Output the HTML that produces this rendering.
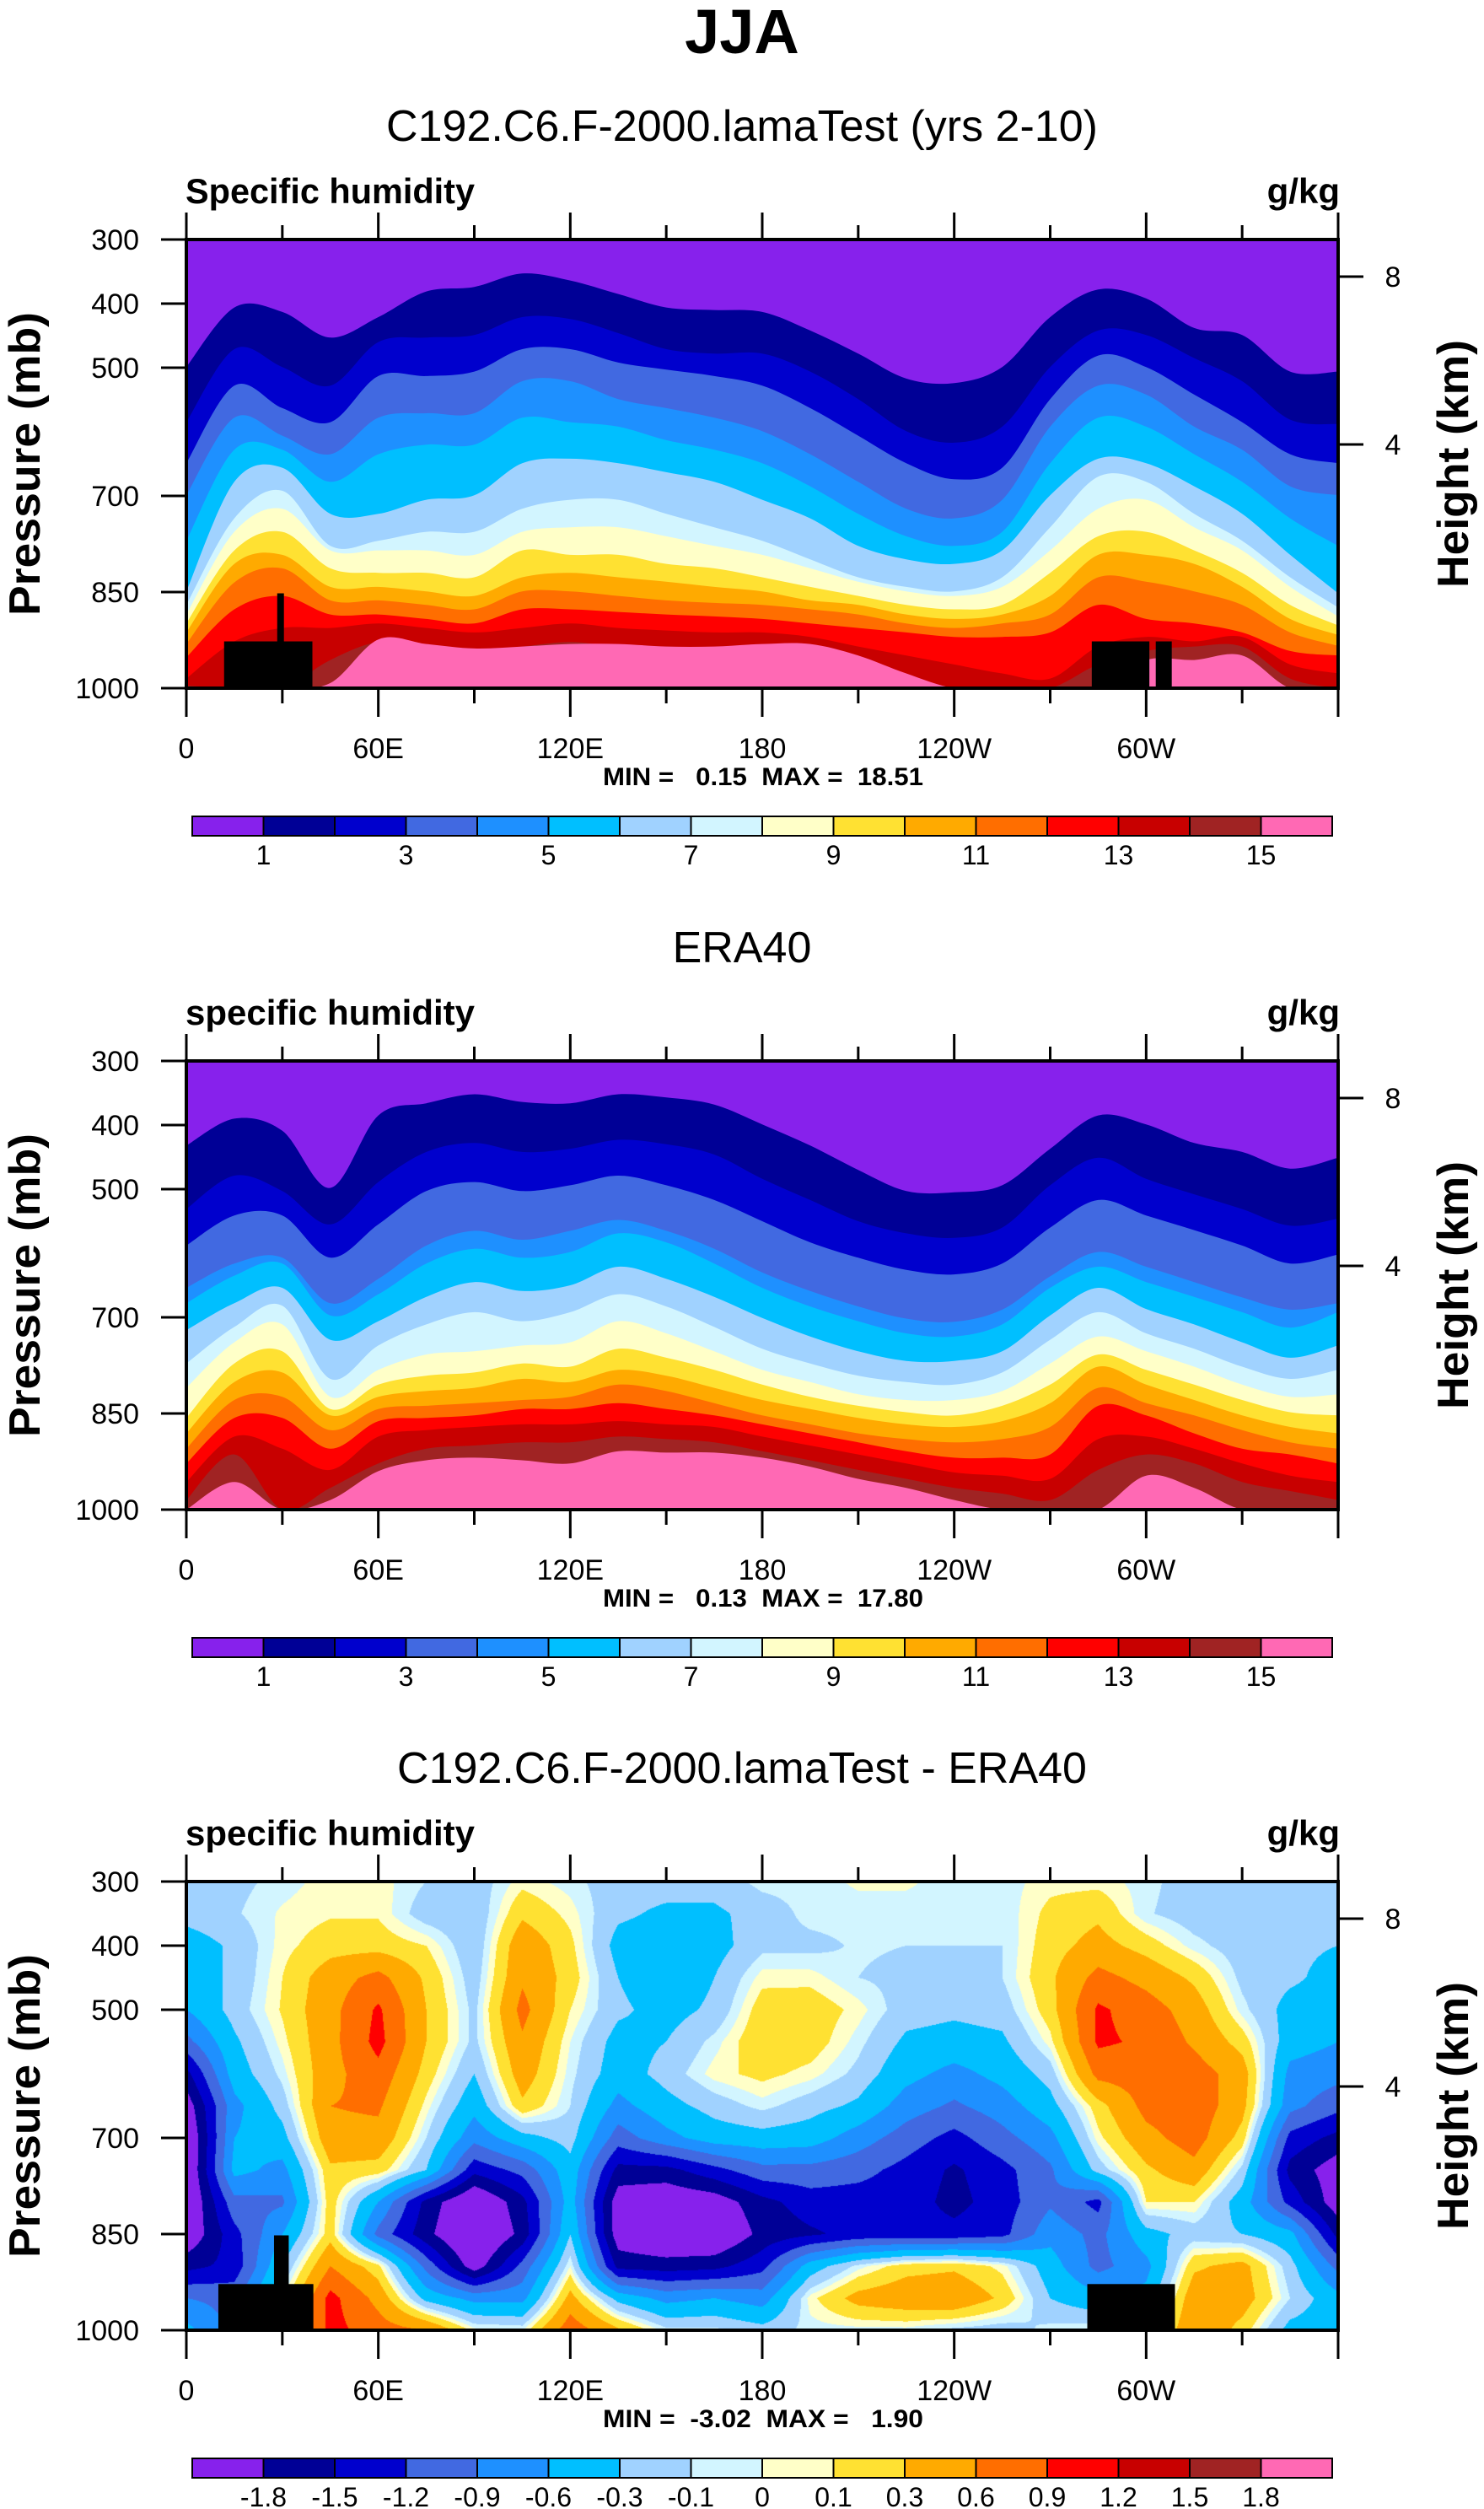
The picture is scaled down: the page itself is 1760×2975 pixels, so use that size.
<!DOCTYPE html>
<html><head><meta charset="utf-8"><title>JJA specific humidity</title>
<style>
body{margin:0;background:#fff;width:1760px;height:2975px;position:relative;overflow:hidden;font-family:"Liberation Sans",sans-serif}
canvas,svg{position:absolute}
</style></head>
<body>
<canvas id="diffCanvas" width="1366" height="532" style="left:221px;top:2231px"></canvas>
<svg id="fig" width="1760" height="2975" style="left:0;top:0" xmlns="http://www.w3.org/2000/svg"></svg>
<script>
// ---------- shared data ----------
const lons = [0,15,30,45,60,75,90,105,120,135,150,165,180,195,210,225,240,255,270,285,300,315,330,345,360];
const pressureTicks = [300,400,500,700,850,1000];
const heightTicks = [8,4];
const lonTickLabels = ["0","60E","120E","180","120W","60W"];
const colors = ["#8721ec","#000096","#0000cd","#4169e1","#1e90ff","#00bfff","#a0d2ff","#d2f5ff","#ffffc8","#ffe132","#ffaa00","#ff6e00","#ff0000","#c80000","#a02323","#ff69b4"];
const qLevels = [1,2,3,4,5,6,7,8,9,10,11,12,13,14,15];
const qLabels = ["1","3","5","7","9","11","13","15"];
const diffLevels = [-1.8,-1.5,-1.2,-0.9,-0.6,-0.3,-0.1,0,0.1,0.3,0.6,0.9,1.2,1.5,1.8];
const diffLabels = ["-1.8","-1.5","-1.2","-0.9","-0.6","-0.3","-0.1","0","0.1","0.3","0.6","0.9","1.2","1.5","1.8"];

// Panel 1 (model): pressure (mb) of each contour-level boundary vs longitude
const modelBounds = [
[499,406,413,453,421,381,374,353,364,385,406,410,413,442,478,517,524,499,421,378,392,438,449,506,506],
[585,471,499,528,460,453,449,421,424,446,471,478,478,506,549,599,617,592,499,442,449,485,521,581,588],
[649,528,563,585,513,513,506,471,471,492,503,513,528,563,606,649,674,656,549,481,499,542,585,635,649],
[699,578,606,635,578,571,571,521,521,549,563,578,599,635,678,720,735,706,592,528,542,592,628,685,699],
[770,628,628,678,635,620,620,578,585,592,613,628,649,685,728,763,778,756,649,578,592,635,678,735,778],
[849,678,656,728,728,706,699,649,642,649,663,678,706,735,778,799,806,785,699,642,649,685,728,792,852],
[870,735,692,778,770,756,756,720,706,706,728,749,770,799,827,842,849,827,749,670,678,728,770,827,874],
[885,756,720,785,785,785,792,756,749,749,763,778,792,813,834,849,856,842,785,720,706,749,785,842,888],
[899,785,756,813,820,820,827,785,792,792,806,813,827,842,856,870,877,870,820,763,756,785,820,870,902],
[913,806,792,842,842,849,856,827,820,827,834,842,849,863,870,885,892,885,856,792,792,806,842,892,917],
[931,835,813,863,863,870,877,849,849,856,863,867,870,877,885,899,906,899,885,827,834,849,870,913,934],
[952,877,856,885,885,892,899,877,877,881,885,888,892,899,906,913,920,920,913,870,892,899,913,942,949],
[985,927,906,906,899,906,913,906,899,906,910,913,913,920,935,949,963,977,985,935,920,927,920,963,977],
[996,1000,1000,956,928,935,942,935,928,935,935,938,938,949,963,985,1000,1000,1000,963,942,935,935,985,1000],
[1000,1000,1000,992,924,931,938,935,931,931,935,935,931,931,949,977,1000,1000,1000,1000,956,956,949,1000,1000]
];
// Panel 2 (ERA40)
const eraBounds = [
[432,390,409,498,385,366,352,364,366,352,357,368,399,432,470,503,505,494,437,385,399,428,442,468,451],
[531,479,503,555,489,442,428,442,437,423,430,446,484,517,550,569,576,560,494,451,484,508,531,557,546],
[588,541,541,607,555,503,489,503,494,479,494,517,550,583,607,626,633,616,560,517,541,564,588,616,602],
[654,616,607,678,640,588,565,579,565,548,565,593,630,659,683,702,707,688,636,598,621,645,669,688,678],
[678,635,616,697,664,616,593,607,598,569,583,616,654,683,706,725,730,711,654,621,645,668,692,716,692],
[720,678,654,735,706,668,645,659,650,621,640,668,701,730,753,768,768,753,697,654,687,711,739,763,744],
[772,715,682,796,744,711,692,706,692,664,683,715,749,772,791,801,805,786,735,692,725,749,777,796,782],
[810,739,711,824,782,758,753,744,739,706,725,753,782,801,820,829,829,815,772,730,753,777,805,824,820],
[857,772,753,843,805,791,786,772,777,749,763,782,805,824,838,848,853,838,805,758,782,805,829,848,853],
[881,801,786,853,824,815,810,796,801,782,791,810,829,843,857,867,871,862,834,777,805,829,853,871,881],
[905,829,824,876,843,838,834,829,824,805,815,834,853,867,881,890,895,890,871,810,834,853,876,895,905],
[928,857,857,905,862,857,853,843,843,834,843,853,867,881,895,909,919,919,914,838,853,881,905,914,928],
[957,886,905,938,886,876,871,867,867,862,867,871,886,900,914,928,942,947,952,890,886,905,928,947,957],
[985,914,1000,966,928,905,900,895,895,886,890,895,909,923,938,952,966,975,985,938,914,928,957,971,985],
[1000,957,1000,985,940,923,919,923,928,909,911,911,919,933,952,966,985,1000,1000,1000,947,966,1000,1000,1000]
];
// Panel 3 (difference): grid values, each column = one longitude, rows = 300..1000 mb step 50
const diffPressures = [300,350,400,450,500,550,600,650,700,750,800,850,900,950,1000];
const diffCols = [
[-0.15,-0.2,-0.45,-0.45,-0.6,-1.0,-1.6,-2.0,-2.2,-2.2,-2.2,-2.1,-1.6,-0.9,-0.5],
[-0.15,-0.12,-0.25,-0.25,-0.2,-0.35,-0.45,-0.7,-0.6,-0.5,-1.0,-1.3,-1.4,-1.0,-1.0],
[-0.05,0.02,0.05,0.1,0.12,0.05,-0.05,-0.2,-0.4,-0.7,-0.95,-0.6,-0.3,0,0],
[0.05,0.08,0.2,0.45,0.5,0.5,0.5,0.6,0.5,0.25,0.2,0.2,0.6,1.0,1.0],
[0.05,0.08,0.2,0.7,0.95,1.0,0.8,0.65,0.5,0.2,-0.6,-1.0,0.15,0.5,0.75],
[-0.1,-0.2,0.1,0.25,0.3,0.3,0.2,0.05,-0.1,-0.3,-1.6,-1.7,-1.0,-0.4,0.6],
[-0.2,-0.25,-0.25,-0.2,-0.15,-0.15,-0.3,-0.5,-0.8,-1.4,-2.2,-2.3,-2.0,-0.7,0.05],
[0.05,0.25,0.5,0.55,0.7,0.55,0.45,0.25,-0.4,-1.1,-1.6,-1.7,-1.1,-0.7,0.0],
[-0.05,0.05,0.15,0.2,0.1,0.0,-0.05,-0.1,-0.2,-0.4,-0.45,-0.3,0.0,0.4,0.8],
[-0.2,-0.25,-0.4,-0.3,-0.25,-0.4,-0.45,-0.7,-1.05,-1.6,-2.0,-2.0,-1.6,-0.4,0.35],
[-0.2,-0.35,-0.45,-0.5,-0.4,-0.3,-0.2,-0.4,-0.7,-1.6,-2.1,-2.2,-1.65,-0.7,-0.05],
[-0.2,-0.35,-0.4,-0.3,-0.25,-0.05,0.05,-0.2,-0.45,-1.3,-2.0,-2.2,-1.6,-0.6,-0.05],
[-0.05,-0.2,-0.15,0.05,0.2,0.25,0.15,-0.05,-0.4,-1.0,-1.6,-1.7,-1.3,-0.75,-0.2],
[-0.05,-0.05,-0.15,0.05,0.22,0.2,0.05,-0.2,-0.45,-1.0,-1.35,-1.55,-0.45,0.05,-0.05],
[0.02,-0.05,-0.08,-0.1,0.05,-0.05,-0.15,-0.35,-0.75,-1.1,-1.35,-1.4,-0.05,0.4,-0.05],
[0.02,-0.05,-0.1,-0.15,-0.2,-0.35,-0.5,-0.75,-1.05,-1.3,-1.35,-1.4,0.2,0.5,-0.05],
[-0.05,-0.05,-0.1,-0.2,-0.25,-0.4,-0.7,-0.95,-1.3,-1.55,-1.6,-1.4,0.25,0.55,-0.15],
[-0.05,-0.08,-0.1,-0.1,-0.2,-0.35,-0.5,-0.75,-1.0,-1.3,-1.35,-1.3,0.05,0.25,-0.2],
[0.05,0.15,0.2,0.25,0.2,0.05,-0.2,-0.4,-0.7,-0.95,-0.95,-0.7,-0.45,-0.3,-0.05],
[0.05,0.25,0.4,0.7,0.95,0.95,0.7,0.2,0.05,-0.2,-1.3,-1.0,-1.0,-0.5,0],
[-0.05,-0.08,0.2,0.5,0.75,0.85,0.75,0.7,0.5,0.25,0.1,-0.4,-0.7,-0.5,-0.2],
[-0.2,-0.2,-0.05,0.25,0.45,0.55,0.75,0.8,0.75,0.5,0.1,-0.2,0.25,0.5,0.6],
[-0.2,-0.2,-0.2,-0.15,-0.05,0.2,0.45,0.4,0.2,-0.15,-0.45,-0.3,0.4,0.45,0.2],
[-0.2,-0.25,-0.25,-0.25,-0.4,-0.45,-0.7,-0.8,-1.3,-1.6,-1.3,-0.5,-0.2,-0.1,-0.4],
[-0.2,-0.2,-0.3,-0.4,-0.45,-0.6,-0.8,-1.1,-1.6,-2.0,-2.0,-1.6,-1.0,-0.5,-0.45]
];
// topography masks [lonStart, lonEnd, topPressure]
const topoModel = [[11.8,39.4,927],[28.4,30.5,852],[283,301,927],[303,308,927]];
const topoDiff = [[10,39.7,928],[27.4,32,852],[281.6,309,928]];

// ---------- drawing ----------
const NS = "http://www.w3.org/2000/svg";
const svg = document.getElementById('fig');
const X0 = 221, X1 = 1587, PH = 532;
const xScale = lon => X0 + (lon/360)*(X1-X0);
function mk(tag, attrs, parent){
  const e = document.createElementNS(NS, tag);
  for (const k in attrs) e.setAttribute(k, attrs[k]);
  (parent||svg).appendChild(e); return e;
}
function txt(str, attrs, parent){ const t = mk('text', attrs, parent); t.textContent = str; return t; }

const title = txt("JJA", {x:880, y:63, 'text-anchor':'middle', 'font-size':74, 'font-weight':'bold', 'font-family':'Liberation Sans, sans-serif'});



const defs = mk('defs', {});

function smoothPath(pts){
  // Catmull-Rom to cubic bezier
  let d = 'M' + pts[0][0].toFixed(1) + ',' + pts[0][1].toFixed(1);
  for (let i=0;i<pts.length-1;i++){
    const p0 = pts[Math.max(0,i-1)], p1 = pts[i], p2 = pts[i+1], p3 = pts[Math.min(pts.length-1,i+2)];
    const c1x = p1[0] + (p2[0]-p0[0])/6, c1y = p1[1] + (p2[1]-p0[1])/6;
    const c2x = p2[0] - (p3[0]-p1[0])/6, c2y = p2[1] - (p3[1]-p1[1])/6;
    d += ' C' + c1x.toFixed(1)+','+c1y.toFixed(1)+' '+c2x.toFixed(1)+','+c2y.toFixed(1)+' '+p2[0].toFixed(1)+','+p2[1].toFixed(1);
  }
  return d;
}

function panel(T, opts){
  const yScale = p => T + (p-300)/700*PH;
  const g = mk('g', {});
  
  
  const cid = 'clip-' + opts.name;
  const cp = mk('clipPath', {id:cid}, defs);
  mk('rect', {x:X0, y:T, width:X1-X0, height:PH}, cp);
  if (opts.bounds){
    const cg = mk('g', {'clip-path':'url(#'+cid+')'}, g);
    const bg = mk('rect', {x:X0, y:T, width:X1-X0, height:PH, fill:colors[0]}, cg);
    
    
    opts.bounds.forEach((b, k) => {
      const pts = lons.map((lon, i) => [xScale(lon), yScale(b[i])]);
      let d = smoothPath(pts);
      d += ' L' + (X1+5) + ',' + pts[pts.length-1][1].toFixed(1) + ' L' + (X1+5) + ',' + (yScale(1000)+10) + ' L' + (X0-5) + ',' + (yScale(1000)+10) + ' L' + (X0-5) + ',' + pts[0][1].toFixed(1) + ' Z';
      const path = mk('path', {d:d, fill:colors[k+1]}, cg);
      
      
    });
  }
  (opts.topo||[]).forEach(tb => {
    const r = mk('rect', {x:xScale(tb[0]), y:yScale(tb[2]), width:xScale(tb[1])-xScale(tb[0]), height:yScale(1000)-yScale(tb[2]), fill:'#000'}, g);
    
    
  });
  const fr = mk('rect', {x:X0, y:T, width:X1-X0, height:PH, fill:'none', stroke:'#000', 'stroke-width':4}, g);
  
  
  for (let lon=0; lon<=360; lon+=30){
    const major = lon % 60 === 0;
    const x = xScale(lon);
    const tl = mk('line', {x1:x, x2:x, y1:T, y2:T-(major?32:17), stroke:'#000', 'stroke-width':3}, g);
    
    
    const bl = mk('line', {x1:x, x2:x, y1:T+PH, y2:T+PH+(major?34:18), stroke:'#000', 'stroke-width':3}, g);
    
    
  }
  lonTickLabels.forEach((lab, i) => {
    const t = txt(lab, {x:xScale(i*60), y:T+615, 'text-anchor':'middle', 'font-size':34}, g);
    
    
  });
  pressureTicks.forEach(p => {
    const y = yScale(p);
    const l = mk('line', {x1:X0-30, x2:X0, y1:y, y2:y, stroke:'#000', 'stroke-width':3}, g);
    
    
    const t = txt(String(p), {x:165, y:y+12, 'text-anchor':'end', 'font-size':34}, g);
    
    
  });
  heightTicks.forEach((h, i) => {
    const y = T + (i===0?44:243);
    const l = mk('line', {x1:X1, x2:X1+30, y1:y, y2:y, stroke:'#000', 'stroke-width':3}, g);
    
    
    const t = txt(String(h), {x:1652, y:y+12, 'text-anchor':'middle', 'font-size':34}, g);
    
    
  });
  const pt = txt(opts.title, {x:880, y:T-117, 'text-anchor':'middle', 'font-size':52}, g);
  
  
  const lt = txt(opts.left, {x:220, y:T-43, 'font-size':42, 'font-weight':'bold', textLength:343, lengthAdjust:'spacingAndGlyphs'}, g);
  
  
  const ut = txt("g/kg", {x:1589, y:T-43, 'text-anchor':'end', 'font-size':42, 'font-weight':'bold'}, g);
  
  
  const pl = txt("Pressure (mb)", {transform:'translate(47,'+(T+266)+') rotate(-90)', 'text-anchor':'middle', 'font-size':52, 'font-weight':'bold', textLength:360, lengthAdjust:'spacingAndGlyphs'}, g);
  
  
  const hl = txt("Height (km)", {transform:'translate(1741,'+(T+266)+') rotate(-90)', 'text-anchor':'middle', 'font-size':52, 'font-weight':'bold', textLength:294, lengthAdjust:'spacingAndGlyphs'}, g);
  
  
  const mm = txt(opts.minmax, {x:905, y:T+647, 'text-anchor':'middle', 'font-size':30, 'font-weight':'bold', textLength:380, lengthAdjust:'spacingAndGlyphs', style:'white-space:pre'}, g);
  
  
  const cbX0 = 228, cbW = 1352, bw = cbW/16, cy = T+684;
  colors.forEach((c, i) => {
    const r = mk('rect', {x:cbX0+i*bw, y:cy, width:bw, height:23, fill:c, stroke:'#000', 'stroke-width':2}, g);
    
    
  });
  opts.cbLabels.forEach((lab, i) => {
    const k = opts.cbStep*i + 1;
    const t = txt(lab, {x:cbX0+k*bw, y:T+741, 'text-anchor':'middle', 'font-size':32}, g);
    
    
  });
}

panel(284, {name:'model-panel', title:'C192.C6.F-2000.lamaTest (yrs 2-10)', left:'Specific humidity', bounds:modelBounds, topo:topoModel, minmax:'MIN =   0.15  MAX =  18.51', cbLabels:qLabels, cbStep:2});
panel(1258, {name:'era40-panel', title:'ERA40', left:'specific humidity', bounds:eraBounds, topo:[], minmax:'MIN =   0.13  MAX =  17.80', cbLabels:qLabels, cbStep:2});
panel(2231, {name:'difference-panel', title:'C192.C6.F-2000.lamaTest - ERA40', left:'specific humidity', bounds:null, topo:topoDiff, minmax:'MIN =  -3.02  MAX =   1.90', cbLabels:diffLabels, cbStep:1});

(function(){
  const cv = document.getElementById('diffCanvas');
  const ctx = cv.getContext('2d');
  const W = cv.width, H = cv.height;
  const img = ctx.createImageData(W, H);
  const rgb = colors.map(c => [parseInt(c.substr(1,2),16), parseInt(c.substr(3,2),16), parseInt(c.substr(5,2),16)]);
  const nc = diffCols.length, nr = diffPressures.length;
  for (let py=0; py<H; py++){
    const p = 300 + (py+0.5)/H*700;
    let fr = (p - diffPressures[0])/(diffPressures[1]-diffPressures[0]);
    let r0 = Math.min(nr-2, Math.floor(fr)); let ty = fr - r0;
    for (let px=0; px<W; px++){
      const lon = (px+0.5)/W*360;
      let fc = (lon - lons[0])/(lons[1]-lons[0]);
      let c0 = Math.min(nc-2, Math.floor(fc)); let tx = fc - c0;
      const v = (1-tx)*(1-ty)*diffCols[c0][r0] + tx*(1-ty)*diffCols[c0+1][r0] + (1-tx)*ty*diffCols[c0][r0+1] + tx*ty*diffCols[c0+1][r0+1];
      let idx = 0; while (idx < diffLevels.length && diffLevels[idx] <= v) idx++;
      const o = (py*W+px)*4, col = rgb[idx];
      img.data[o]=col[0]; img.data[o+1]=col[1]; img.data[o+2]=col[2]; img.data[o+3]=255;
    }
  }
  ctx.putImageData(img, 0, 0);
})();
</script>
</body></html>
